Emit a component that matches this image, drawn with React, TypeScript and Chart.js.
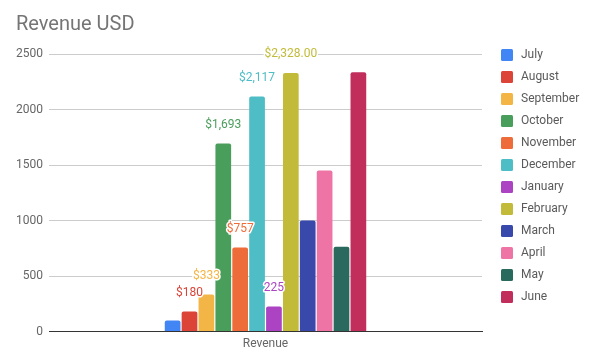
import React, { useEffect, useRef } from "react";
import { Chart, registerables } from "chart.js";

Chart.register(...registerables);

const categories = ["Revenue"];
const months = [
  "July", "August", "September", "October", "November", "December",
  "January", "February", "March", "April", "May", "June",
];
const revenue = [100, 180, 333, 1693, 757, 2117, 225, 2328, 1000, 1450, 765, 2335];
const valueLabels = ["", "$180", "$333", "$1,693", "$757", "$2,117", "225", "$2,328.00", "", "", "", ""];
const colors = [
  "#4285F4", "#DB4437", "#F4B547", "#4A9E5C", "#EE6B3A", "#4FBDC6",
  "#AB43C3", "#C2BB3A", "#3949AB", "#EF74A6", "#2A6A5E", "#C22E5C",
];
const yTicks = [0, 500, 1000, 1500, 2000, 2500];

const FONT = "Roboto, 'Noto Sans', Arial, sans-serif";

const valueLabelPlugin = {
  id: "valueLabels",
  afterDatasetsDraw(chart: any) {
    const ctx = chart.ctx;
    ctx.save();
    ctx.font = `12px ${FONT}`;
    ctx.textAlign = "center";
    ctx.textBaseline = "middle";
    ctx.lineJoin = "round";
    chart.data.datasets.forEach((ds: any, i: number) => {
      const text = valueLabels[i];
      if (!text) return;
      const meta = chart.getDatasetMeta(i);
      const el = meta.data[0];
      if (!el) return;
      const x = el.x;
      const y = el.y - 19;
      ctx.strokeStyle = "#ffffff";
      ctx.lineWidth = 3;
      ctx.strokeText(text, x, y);
      ctx.fillStyle = colors[i];
      ctx.fillText(text, x, y);
    });
    ctx.restore();
  },
};

const sideLegendPlugin = {
  id: "sideLegend",
  afterDraw(chart: any) {
    const ctx = chart.ctx;
    const area = chart.chartArea;
    const x0 = area.right + 19;
    const y0 = area.top + 1;
    ctx.save();
    ctx.font = `12px ${FONT}`;
    ctx.textAlign = "left";
    ctx.textBaseline = "middle";
    chart.data.datasets.forEach((ds: any, i: number) => {
      const cy = y0 + i * 22;
      ctx.fillStyle = ds.backgroundColor;
      ctx.beginPath();
      if ((ctx as any).roundRect) {
        (ctx as any).roundRect(x0, cy - 6, 12, 12, 1.5);
      } else {
        ctx.rect(x0, cy - 6, 12, 12);
      }
      ctx.fill();
      ctx.fillStyle = "#5a5a5a";
      ctx.fillText(ds.label, x0 + 20, cy);
    });
    ctx.restore();
  },
};

export default function App() {
  const canvasRef = useRef<HTMLCanvasElement | null>(null);

  useEffect(() => {
    const canvas = canvasRef.current;
    if (!canvas) return;
    const chart = new Chart(canvas, {
      type: "bar",
      data: {
        labels: categories,
        datasets: months.map((m, i) => ({
          label: m,
          data: [revenue[i]],
          backgroundColor: colors[i],
          borderRadius: 2,
          borderSkipped: "bottom",
          barPercentage: 0.93,
          categoryPercentage: 0.468,
        })),
      },
      options: {
        responsive: false,
        animation: false,
        layout: { padding: { left: 16, right: 115, top: 0, bottom: 4 } },
        plugins: {
          legend: { display: false },
          tooltip: { enabled: false },
          title: {
            display: true,
            text: "Revenue USD",
            align: "start",
            color: "#757575",
            font: { family: FONT, size: 20, weight: "normal" },
            padding: { top: 13, bottom: 17 },
          },
        },
        scales: {
          x: {
            grid: { display: false, drawTicks: false },
            border: { display: true, color: "#333333", width: 1 },
            ticks: {
              color: "#666666",
              font: { family: FONT, size: 12 },
              padding: 5,
            },
          },
          y: {
            min: 0,
            max: 2500,
            afterBuildTicks(scale: any) {
              scale.ticks = yTicks.map((v) => ({ value: v }));
            },
            afterFit(scale: any) {
              scale.width = 33;
            },
            grid: { color: "#cccccc", drawTicks: false },
            border: { display: false },
            ticks: {
              color: "#666666",
              font: { family: FONT, size: 12 },
              padding: 6,
              callback: (v: any) => String(v),
            },
          },
        },
      },
      plugins: [valueLabelPlugin, sideLegendPlugin],
    } as any);
    return () => chart.destroy();
  }, []);

  return (
    <div style={{ position: "absolute", left: 0, top: 0, width: 597, height: 360, background: "#ffffff" }}>
      <canvas ref={canvasRef} width={597} height={360} style={{ display: "block" }} />
    </div>
  );
}
